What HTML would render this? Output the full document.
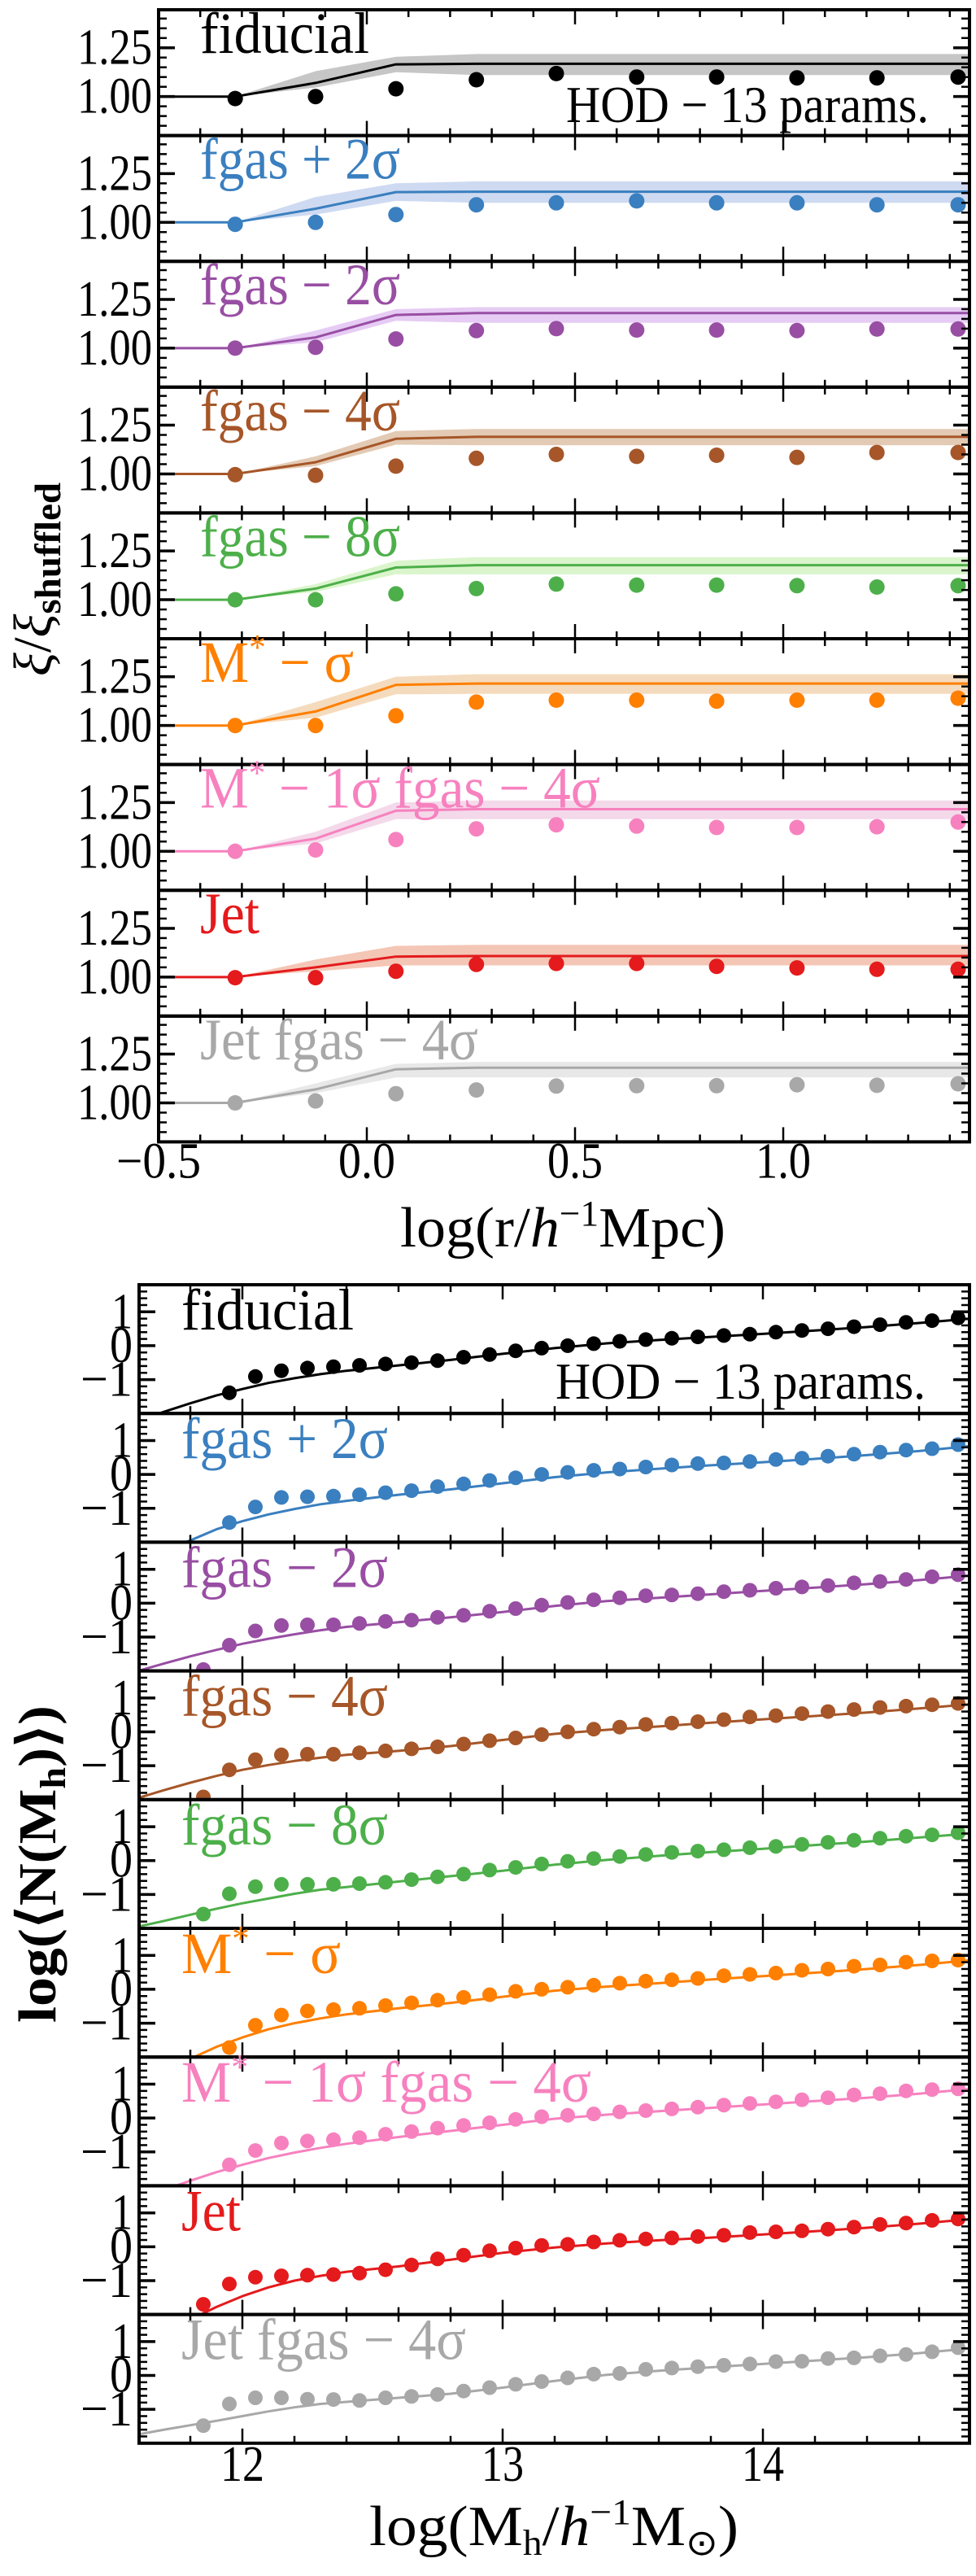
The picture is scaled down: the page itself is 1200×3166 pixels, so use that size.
<!DOCTYPE html>
<html><head><meta charset="utf-8"><title>Clustering ratio and HOD panels</title>
<style>
html,body{margin:0;padding:0;background:#fff;}
svg{display:block;font-family:"Liberation Serif","DejaVu Serif",serif;}
</style></head>
<body>
<svg id="fig" width="1200" height="3166" viewBox="0 0 1200 3166" xmlns="http://www.w3.org/2000/svg">
<defs id="defs"></defs>
<g id="top-chart"></g>
<g id="bot-chart"></g>
</svg>
<script>
// ---------- shared panel metadata ----------
const panelNames = ["fiducial","fgas + 2σ","fgas − 2σ","fgas − 4σ","fgas − 8σ","M|*| − σ","M|*| − 1σ fgas − 4σ","Jet","Jet fgas − 4σ"];
const panelColors = ["#000000","#3a7fbf","#984ea3","#a65628","#4daf4a","#ff7f00","#f781bf","#e41a1c","#a8a8a8"];
const bandColors = ["#a8a8a8","#b4c6ea","#d9b0ee","#d4ad8c","#c6f0b0","#f0c89a","#eec4df","#eea88e","#dcdcdc"];

// ---------- top chart data (xi / xi_shuffled) ----------
const rBins = [-0.316,-0.123,0.07,0.263,0.455,0.648,0.84,1.033,1.225,1.42];
const ratioPts = [
 [0.99,1.00,1.04,1.086,1.118,1.10,1.10,1.096,1.096,1.10],
 [0.99,1.00,1.04,1.09,1.10,1.11,1.10,1.10,1.09,1.09],
 [1.00,1.004,1.047,1.09,1.10,1.093,1.093,1.09,1.098,1.098],
 [0.996,0.993,1.04,1.08,1.10,1.09,1.096,1.085,1.11,1.11],
 [1.00,1.00,1.03,1.057,1.08,1.075,1.075,1.072,1.065,1.072],
 [1.00,1.00,1.05,1.12,1.13,1.13,1.125,1.13,1.13,1.14],
 [1.00,1.007,1.06,1.115,1.136,1.129,1.122,1.122,1.126,1.15],
 [0.997,0.997,1.03,1.065,1.07,1.07,1.055,1.047,1.04,1.04],
 [1.00,1.01,1.047,1.066,1.086,1.088,1.088,1.093,1.09,1.098]
];
const modelR = [-0.5,-0.316,-0.123,0.07,0.263,1.45];
const ratioModel = [
 [1.0,1.0,1.07,1.165,1.168,1.168],
 [1.0,1.0,1.07,1.155,1.157,1.157],
 [1.0,1.0,1.055,1.17,1.18,1.18],
 [1.0,1.0,1.06,1.18,1.19,1.19],
 [1.0,1.0,1.057,1.165,1.177,1.177],
 [1.0,1.0,1.072,1.208,1.215,1.215],
 [1.0,1.0,1.065,1.208,1.216,1.216],
 [1.0,1.0,1.05,1.105,1.108,1.108],
 [1.0,1.0,1.069,1.172,1.18,1.18]
];
const ratioUpper = [
 [1.0,1.0,1.13,1.204,1.218,1.218],
 [1.0,1.0,1.13,1.2,1.21,1.21],
 [1.0,1.0,1.09,1.2,1.21,1.21],
 [1.0,1.0,1.09,1.22,1.23,1.23],
 [1.0,1.0,1.08,1.2,1.218,1.218],
 [1.0,1.0,1.12,1.25,1.263,1.263],
 [1.0,1.0,1.1,1.25,1.26,1.26],
 [1.0,1.0,1.09,1.16,1.165,1.165],
 [1.0,1.0,1.1,1.2,1.21,1.21]
];
const ratioLower = [
 [1.0,1.0,1.046,1.125,1.11,1.11],
 [1.0,1.0,1.04,1.11,1.10,1.10],
 [1.0,1.0,1.03,1.14,1.13,1.13],
 [1.0,1.0,1.04,1.15,1.147,1.147],
 [1.0,1.0,1.04,1.13,1.13,1.13],
 [1.0,1.0,1.04,1.16,1.162,1.162],
 [1.0,1.0,1.04,1.165,1.165,1.165],
 [1.0,1.0,1.03,1.06,1.06,1.06],
 [1.0,1.0,1.05,1.13,1.13,1.13]
];
const topYTicks = [1.00,1.25];
const topYTickLabels = ["1.00","1.25"];
const topXTicks = [-0.5,0.0,0.5,1.0];
const topXTickLabels = ["−0.5","0.0","0.5","1.0"];

// ---------- bottom chart data (log <N(M_h)>) ----------
const massBins = [11.85,11.95,12.05,12.15,12.25,12.35,12.45,12.55,12.65,12.75,12.85,12.95,13.05,13.15,13.25,13.35,13.45,13.55,13.65,13.75,13.85,13.95,14.05,14.15,14.25,14.35,14.45,14.55,14.65,14.75];
const hodPts = [
 [null,-1.39,-0.91,-0.74,-0.66,-0.62,-0.58,-0.54,-0.5,-0.44,-0.34,-0.26,-0.15,-0.07,0,0.06,0.13,0.18,0.22,0.26,0.3,0.34,0.4,0.45,0.5,0.56,0.62,0.69,0.74,0.82],
 [null,-1.42,-0.96,-0.68,-0.66,-0.64,-0.6,-0.54,-0.48,-0.36,-0.28,-0.18,-0.1,0,0.06,0.12,0.16,0.22,0.28,0.32,0.34,0.38,0.44,0.48,0.54,0.6,0.66,0.72,0.76,0.88],
 [-1.96,-1.24,-0.82,-0.66,-0.64,-0.64,-0.6,-0.54,-0.5,-0.42,-0.36,-0.24,-0.16,-0.06,0.02,0.1,0.16,0.22,0.24,0.28,0.34,0.38,0.44,0.48,0.52,0.6,0.64,0.7,0.78,0.84],
 [-1.92,-1.12,-0.82,-0.68,-0.66,-0.66,-0.62,-0.56,-0.5,-0.44,-0.36,-0.26,-0.18,-0.08,0,0.08,0.14,0.22,0.26,0.3,0.36,0.44,0.48,0.54,0.6,0.66,0.72,0.76,0.8,0.84],
 [-1.58,-0.98,-0.77,-0.7,-0.7,-0.7,-0.68,-0.64,-0.56,-0.48,-0.4,-0.28,-0.2,-0.1,-0.02,0.06,0.12,0.18,0.24,0.28,0.32,0.38,0.42,0.48,0.54,0.6,0.66,0.72,0.76,0.82],
 [null,-1.72,-1.06,-0.76,-0.64,-0.6,-0.56,-0.48,-0.4,-0.32,-0.24,-0.16,-0.06,0,0.06,0.12,0.18,0.24,0.28,0.32,0.4,0.44,0.48,0.56,0.6,0.68,0.72,0.8,0.84,0.86],
 [null,-1.38,-0.96,-0.74,-0.68,-0.64,-0.58,-0.48,-0.4,-0.3,-0.22,-0.14,-0.04,0.04,0.08,0.12,0.18,0.22,0.27,0.32,0.38,0.43,0.48,0.54,0.6,0.68,0.72,0.8,0.84,0.86],
 [-1.7,-1.1,-0.9,-0.86,-0.84,-0.82,-0.78,-0.68,-0.54,-0.36,-0.25,-0.12,-0.04,0.04,0.07,0.14,0.19,0.23,0.26,0.3,0.34,0.42,0.44,0.47,0.52,0.58,0.66,0.7,0.78,0.82],
 [-1.48,-0.84,-0.66,-0.66,-0.7,-0.71,-0.74,-0.66,-0.62,-0.56,-0.46,-0.36,-0.26,-0.18,-0.07,0.04,0.06,0.18,0.22,0.26,0.3,0.34,0.41,0.42,0.5,0.52,0.58,0.62,0.7,0.82]
];
const modelM = [11.6,11.7,11.8,11.9,12.0,12.1,12.2,12.3,12.4,12.6,12.8,13.0,13.2,13.4,13.6,13.8,14.0,14.2,14.4,14.6,14.8];
const hodModel = [
 [-2.2,-1.95,-1.7,-1.47,-1.28,-1.1,-0.96,-0.84,-0.74,-0.58,-0.42,-0.24,-0.07,0.07,0.17,0.26,0.35,0.45,0.55,0.67,0.8],
 [-2.5,-2.2,-1.95,-1.62,-1.38,-1.18,-1.02,-0.88,-0.78,-0.6,-0.44,-0.26,-0.08,0.06,0.17,0.27,0.36,0.46,0.57,0.69,0.84],
 [-2.0,-1.78,-1.57,-1.38,-1.2,-1.05,-0.92,-0.8,-0.7,-0.56,-0.42,-0.26,-0.08,0.06,0.16,0.26,0.36,0.46,0.56,0.68,0.82],
 [-1.95,-1.72,-1.5,-1.3,-1.12,-0.98,-0.86,-0.76,-0.68,-0.56,-0.42,-0.24,-0.06,0.06,0.16,0.27,0.37,0.47,0.57,0.69,0.82],
 [-1.95,-1.78,-1.6,-1.42,-1.26,-1.12,-0.98,-0.86,-0.78,-0.62,-0.46,-0.3,-0.12,0.02,0.14,0.25,0.35,0.46,0.56,0.68,0.8],
 [-2.6,-2.35,-2.05,-1.7,-1.42,-1.18,-1.0,-0.86,-0.74,-0.56,-0.4,-0.22,-0.04,0.08,0.18,0.29,0.39,0.49,0.6,0.72,0.86],
 [-2.4,-2.12,-1.85,-1.6,-1.38,-1.18,-1.02,-0.88,-0.76,-0.56,-0.38,-0.2,-0.02,0.1,0.2,0.3,0.4,0.5,0.6,0.72,0.86],
 [-2.8,-2.5,-2.15,-1.78,-1.46,-1.2,-1.0,-0.86,-0.74,-0.58,-0.38,-0.18,-0.02,0.1,0.19,0.27,0.36,0.46,0.56,0.68,0.82],
 [-1.74,-1.6,-1.47,-1.34,-1.2,-1.06,-0.94,-0.84,-0.78,-0.66,-0.54,-0.36,-0.16,0.02,0.14,0.24,0.34,0.44,0.54,0.66,0.8]
];
const botYTicks = [-1,0,1];
const botYTickLabels = ["−1","0","1"];
const botXTicks = [12,13,14];
const botXTickLabels = ["12","13","14"];

// ---------- helpers ----------
const NS = "http://www.w3.org/2000/svg";
function mk(tag, attrs, parent){
  const e = document.createElementNS(NS, tag);
  for (const k in attrs) e.setAttribute(k, attrs[k]);
  if (parent) parent.appendChild(e);
  return e;
}
const defs = document.getElementById('defs');
function labelWidth(s, perChar){ return s.length * perChar; }

function drawChart(cfg){
  const root = document.getElementById(cfg.rootId);
  for (let p = 0; p < 9; p++){
    const top = cfg.top + p*cfg.ph, bot = top + cfg.ph;
    const ys = v => top + (cfg.yMax - v)/(cfg.yMax - cfg.yMin)*cfg.ph;
    const g = mk('g', {}, root);
    
    
    const cid = cfg.prefix + 'clip' + p;
    const cp = mk('clipPath', {id: cid}, defs);
    mk('rect', {x: cfg.x0, y: top, width: cfg.x1 - cfg.x0, height: cfg.ph}, cp);
    const data = mk('g', {'clip-path': 'url(#' + cid + ')'}, g);
    if (cfg.upper){
      let d = '';
      cfg.mx.forEach((x,i) => { d += (i ? 'L' : 'M') + cfg.xs(x).toFixed(1) + ',' + ys(cfg.upper[p][i]).toFixed(1); });
      for (let i = cfg.mx.length-1; i >= 0; i--) d += 'L' + cfg.xs(cfg.mx[i]).toFixed(1) + ',' + ys(cfg.lower[p][i]).toFixed(1);
      const band = mk('path', {d: d + 'Z', fill: bandColors[p], 'fill-opacity': 0.65, stroke: 'none'}, data);
      
      
    }
    const pts = cfg.mx.map((x,i) => cfg.xs(x).toFixed(1) + ',' + ys(cfg.model[p][i]).toFixed(1)).join(' ');
    const line = mk('polyline', {points: pts, fill: 'none', stroke: panelColors[p], 'stroke-width': 3, 'stroke-linejoin': 'round'}, data);
    
    
    cfg.px.forEach((x,i) => {
      const v = cfg.pts[p][i];
      if (v === null || v === undefined) return;
      const c = mk('circle', {cx: cfg.xs(x).toFixed(1), cy: ys(v).toFixed(1), r: cfg.r, fill: panelColors[p]}, data);
      
      
    });
    const tk = mk('g', {stroke: '#000', 'stroke-width': 2.5}, g);
    
    
    for (let v = cfg.xMinorStart; v <= cfg.xMax + 1e-6; v += cfg.xMinorStep){
      const xv = Math.round(v*1000)/1000;
      const major = cfg.xTicks.some(t => Math.abs(t - xv) < 1e-6);
      const L = major ? 18 : 9, X = cfg.xs(xv);
      if (X < cfg.x0 - 0.5 || X > cfg.x1 + 0.5) continue;
      mk('line', {x1: X, x2: X, y1: top, y2: top + L}, tk);
      mk('line', {x1: X, x2: X, y1: bot, y2: bot - L}, tk);
    }
    for (let v = cfg.yMinorStart; v <= cfg.yMax + 1e-6; v += cfg.yMinorStep){
      const yv = Math.round(v*1000)/1000;
      const major = cfg.yTicks.some(t => Math.abs(t - yv) < 1e-6);
      const L = major ? 20 : 10, Y = ys(yv);
      if (Y < top + 1 || Y > bot - 1) continue;
      mk('line', {x1: cfg.x0, x2: cfg.x0 + L, y1: Y, y2: Y, 'stroke-width': major ? 3.5 : 2.5}, tk);
      mk('line', {x1: cfg.x1, x2: cfg.x1 - L, y1: Y, y2: Y, 'stroke-width': major ? 3.5 : 2.5}, tk);
    }
    cfg.yTicks.forEach((t,i) => {
      const s = cfg.yLabels[i];
      const tl = mk('text', {x: cfg.x0 - 8, y: ys(t) + 20, 'text-anchor': 'end', 'font-size': 62, fill: '#000', textLength: cfg.yLabW[i], lengthAdjust: 'spacingAndGlyphs'}, g);
      tl.textContent = s;
      
      
    });
    const fr = mk('rect', {x: cfg.x0, y: top, width: cfg.x1 - cfg.x0, height: cfg.ph, fill: 'none', stroke: '#000', 'stroke-width': 4}, g);
    
    
    const lab = mk('text', {x: cfg.labX, y: top + cfg.labDy, 'font-size': 72, fill: panelColors[p], textLength: cfg.labW[p], lengthAdjust: 'spacingAndGlyphs'}, g);
    const parts = panelNames[p].split('|');
    parts.forEach((s, k) => {
      const ts = mk('tspan', {}, lab);
      if (k === 1){ ts.setAttribute('font-size', '44'); ts.setAttribute('dy', '-28'); }
      if (k === 2){ ts.setAttribute('dy', '28'); }
      ts.textContent = s;
    });
    
    
    if (p === 0){
      const h = mk('text', {x: cfg.hodX, y: top + cfg.hodDy, 'font-size': 64, fill: '#000', textLength: cfg.hodW, lengthAdjust: 'spacingAndGlyphs'}, g);
      h.textContent = 'HOD − 13 params.';
      
      
    }
  }
  const lastBot = cfg.top + 9*cfg.ph;
  cfg.xTicks.forEach((t,i) => {
    const tl = mk('text', {x: cfg.xs(t), y: lastBot + cfg.xLabDy, 'text-anchor': 'middle', 'font-size': 62, fill: '#000', textLength: cfg.xLabW[i], lengthAdjust: 'spacingAndGlyphs'}, root);
    tl.textContent = cfg.xLabels[i];
    
    
  });
}

drawChart({
  rootId: 'top-chart', prefix: 'ratio', top: 12, ph: 154.6, x0: 195, x1: 1192,
  xs: x => 195 + (x + 0.5)*512, xMax: 1.447, xMinorStart: -0.5, xMinorStep: 0.1, xTicks: topXTicks, xLabels: topXTickLabels, xLabW: [104,70,68,68],
  yMin: 0.8, yMax: 1.445, yMinorStart: 0.8, yMinorStep: 0.05, yTicks: topYTicks, yLabels: topYTickLabels, yLabW: [92,92],
  mx: modelR, model: ratioModel, upper: ratioUpper, lower: ratioLower, px: rBins, pts: ratioPts, r: 9.5,
  labX: 246, labDy: 53, labW: [208,246,246,246,246,189,492,73,342],
  hodX: 696, hodDy: 138, hodW: 446, xLabDy: 44
});
drawChart({
  rootId: 'bot-chart', prefix: 'hod', top: 1579, ph: 158.2, x0: 171, x1: 1192,
  xs: x => 298 + (x - 12)*320, xMax: 14.79, xMinorStart: 11.6, xMinorStep: 0.2, xTicks: botXTicks, xLabels: botXTickLabels, xLabW: [54,52,52],
  yMin: -2.0, yMax: 1.8, yMinorStart: -2.0, yMinorStep: 0.2, yTicks: botYTicks, yLabels: botYTickLabels, yLabW: [64,28,26],
  mx: modelM, model: hodModel, upper: null, lower: null, px: massBins, pts: hodPts, r: 9,
  labX: 223, labDy: 55, labW: [212,254,254,254,254,196,504,73,350],
  hodX: 683, hodDy: 140, hodW: 455, xLabDy: 46
});
</script>
<svg style="position:absolute;left:0;top:0" width="1200" height="3166" viewBox="0 0 1200 3166" xmlns="http://www.w3.org/2000/svg">
  <text transform="translate(62,712) rotate(-90)" text-anchor="middle" font-family="Liberation Serif, serif" font-size="66" fill="#000" textLength="238" lengthAdjust="spacingAndGlyphs"><tspan font-style="italic">ξ</tspan>/<tspan font-style="italic">ξ</tspan><tspan font-size="46" font-weight="bold" dy="12">shuffled</tspan></text>
  <text x="692" y="1532" text-anchor="middle" font-family="Liberation Serif, serif" font-size="70" fill="#000" textLength="400" lengthAdjust="spacingAndGlyphs">log(r/<tspan font-style="italic">h</tspan><tspan font-size="44" dy="-26">−1</tspan><tspan dy="26">Mpc)</tspan></text>
  <text transform="translate(68,2291) rotate(-90)" text-anchor="middle" font-family="Liberation Serif, serif" font-size="66" font-weight="bold" fill="#000" textLength="390" lengthAdjust="spacingAndGlyphs">log(⟨N(M<tspan font-size="44" dy="12">h</tspan><tspan dy="-12">)⟩)</tspan></text>
  <text x="681" y="3128" text-anchor="middle" font-family="Liberation Serif, serif" font-size="70" fill="#000" textLength="454" lengthAdjust="spacingAndGlyphs">log(M<tspan font-size="44" dy="12">h</tspan><tspan dy="-12">/</tspan><tspan font-style="italic">h</tspan><tspan font-size="44" dy="-26">−1</tspan><tspan dy="26">M</tspan><tspan font-size="44" dy="12">⊙</tspan><tspan dy="-12">)</tspan></text>
</svg>
</body></html>
